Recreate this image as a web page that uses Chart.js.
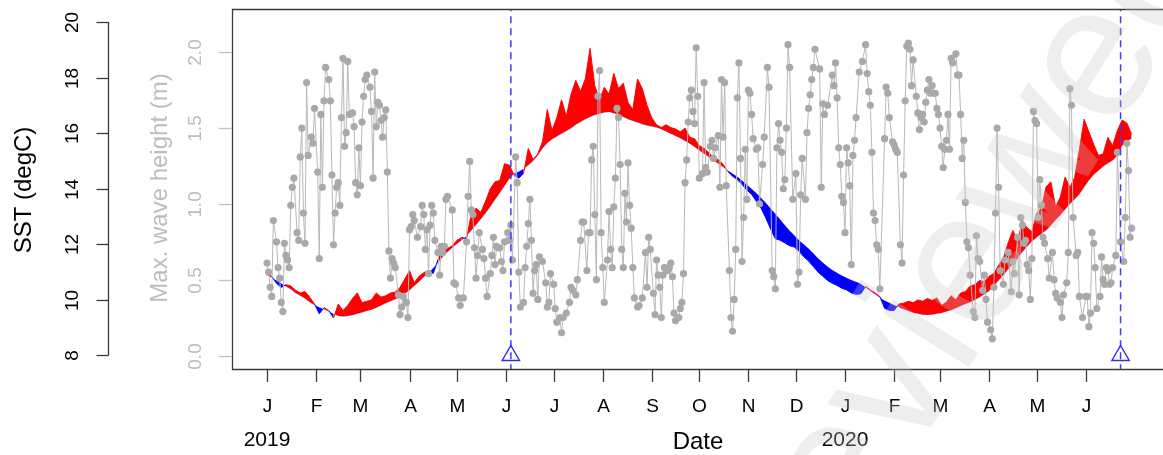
<!DOCTYPE html>
<html>
<head>
<meta charset="utf-8">
<title>SST and wave height</title>
<script src="https://cdn.jsdelivr.net/npm/chart.js@4.4.1/dist/chart.umd.min.js"></script>
<style>
  html, body { margin: 0; padding: 0; background: #fff; }
  canvas { display: block; }
</style>
</head>
<body>
<canvas id="sstChart" width="1163" height="455"></canvas>
<script>
// days since 2019-01-01
const sstDays = [
  0,3,6,9,12,15,18,21,24,27,
  30,33,36,39,42,45,48,51,54,57,
  60,63,66,69,72,75,78,81,84,87,
  90,93,96,99,102,105,108,111,114,117,
  120,123,126,129,132,135,138,141,144,147,
  150,153,156,159,162,165,168,171,174,177,
  180,183,186,189,192,195,198,201,204,207,
  210,213,216,219,222,225,228,231,234,237,
  240,243,246,249,252,255,258,261,264,267,
  270,273,276,279,282,285,288,291,294,297,
  300,303,306,309,312,315,318,321,324,327,
  330,333,336,339,342,345,348,351,354,357,
  360,363,366,369,372,375,378,381,384,387,
  390,393,396,399,402,405,408,411,414,417,
  420,423,426,429,432,435,438,441,444,447,
  450,453,456,459,462,465,468,471,474,477,
  480,483,486,489,492,495,498,501,504,507,
  510,513,516,519,522,525,528,531,534,537,
  540,543,546
];

// climatology (smooth curve)
const sstClim = [
  10.90,10.80,10.70,10.60,10.48,10.38,10.25,10.15,10.05,9.92,
  9.82,9.74,9.66,9.58,9.50,9.42,9.40,9.42,9.45,9.50,
  9.55,9.60,9.65,9.72,9.80,9.88,9.95,10.02,10.10,10.22,
  10.35,10.50,10.65,10.82,10.98,11.15,11.35,11.55,11.72,11.88,
  12.02,12.15,12.30,12.50,12.70,12.90,13.12,13.35,13.60,13.85,
  14.10,14.35,14.55,14.62,14.72,14.85,15.00,15.20,15.45,15.65,
  15.78,15.88,15.98,16.08,16.18,16.30,16.40,16.50,16.58,16.65,
  16.70,16.74,16.76,16.72,16.66,16.58,16.50,16.44,16.38,16.32,
  16.28,16.24,16.20,16.14,16.06,15.98,15.90,15.82,15.72,15.62,
  15.50,15.38,15.26,15.14,15.02,14.90,14.78,14.66,14.55,14.43,
  14.30,14.15,14.00,13.85,13.68,13.50,13.30,13.10,12.90,12.70,
  12.50,12.33,12.15,12.00,11.85,11.68,11.50,11.35,11.20,11.08,
  10.98,10.88,10.80,10.72,10.65,10.58,10.45,10.32,10.20,10.08,
  9.98,9.90,9.82,9.74,9.66,9.60,9.54,9.50,9.47,9.46,
  9.47,9.50,9.53,9.58,9.63,9.70,9.78,9.85,9.92,10.00,
  10.10,10.20,10.32,10.50,10.70,10.90,11.10,11.30,11.50,11.72,
  11.92,12.10,12.25,12.38,12.50,12.68,12.88,13.05,13.25,13.45,
  13.62,13.80,14.05,14.30,14.50,14.65,14.80,14.92,15.02,15.20,
  15.55,15.72,15.80
];

// observed SST
const sstObs = [
  10.95,10.85,10.60,10.45,10.55,10.50,10.35,10.25,10.30,10.10,
  9.85,9.50,9.72,9.62,9.35,9.85,9.62,9.80,10.05,10.25,
  9.90,9.95,10.00,10.25,10.10,10.15,10.25,10.28,10.45,10.75,
  11.05,10.62,10.85,10.98,11.05,10.95,11.45,11.90,11.85,11.95,
  12.15,12.25,12.20,13.10,13.30,13.15,13.55,14.00,14.25,14.30,
  14.90,14.85,14.50,14.38,14.55,15.45,15.05,15.25,15.70,16.85,
  16.10,16.55,17.20,16.60,17.40,17.90,17.50,17.95,19.05,17.70,
  17.20,17.65,17.40,18.15,17.60,17.80,17.10,16.85,17.95,17.60,
  17.00,16.55,16.30,16.20,16.30,16.20,16.15,16.05,16.18,15.85,
  15.80,15.55,15.45,15.30,15.10,15.05,14.88,14.62,14.45,14.33,
  14.15,13.95,13.80,13.55,13.30,12.95,12.55,12.20,12.15,12.05,
  11.95,11.90,11.75,11.55,11.40,11.20,11.00,10.85,10.70,10.60,
  10.52,10.42,10.36,10.25,10.20,10.22,10.48,10.36,10.25,10.12,
  9.70,9.62,9.62,9.85,9.88,9.95,9.90,10.00,9.95,10.05,
  9.98,10.07,9.80,9.92,10.15,10.00,10.25,10.30,10.50,10.55,
  10.70,10.65,10.85,10.95,11.25,11.50,12.05,12.50,12.10,12.85,
  12.60,12.45,13.10,13.30,14.07,14.25,13.35,13.70,14.42,14.05,
  14.40,15.40,16.50,16.05,15.60,15.20,15.25,15.85,15.55,16.10,
  16.47,16.36,15.95
];

// max. wave height (m)
const waveDays = [
  0,1,2,3,4,6,7,8,9,10,11,12,13,14,15,16,17,19,20,21,22,23,24,25,26,28,29,30,32,33,
  34,35,36,37,39,40,41,42,43,44,45,46,47,48,49,50,51,52,54,55,56,57,58,59,60,61,62,63,65,66,
  67,68,69,70,71,72,73,74,75,76,77,78,79,80,81,83,84,85,86,88,89,90,91,92,93,95,97,98,99,100,
  101,102,103,104,105,106,108,109,110,
  111,112,113,114,117,118,119,121,122,124,126,127,128,129,130,131,132,133,134,136,
  137,138,139,141,142,143,144,145,146,147,148,149,150,152,153,154,155,157,158,159,
  160,162,163,164,165,166,167,168,169,170,171,172,174,176,177,178,179,181,182,183,
  185,186,187,189,191,192,193,195,196,198,199,200,202,203,204,205,206,207,208,209,
  210,211,212,213,215,216,217,218,219,220,221,222,223,224,225,226,227,228,
  229,230,231,232,234,235,237,239,240,241,242,244,245,246,247,248,249,250,251,253,
  254,255,256,257,258,260,261,262,263,264,265,266,267,268,269,270,271,272,273,275,
  276,277,278,280,281,282,283,285,286,287,288,289,290,292,293,294,295,296,297,298,
  299,300,301,302,303,304,305,306,307,309,310,311,313,314,316,317,319,320,321,322,
  323,324,325,326,327,328,329,330,332,334,335,336,337,338,340,341,342,343,344,345,
  346,349,350,351,352,354,357,358,359,360,361,362,363,364,365,366,367,368,369,370,
  371,372,374,376,378,379,380,381,382,383,384,385,386,387,390,391,392,393,395,396,
  397,398,400,401,402,403,404,405,406,407,408,410,411,412,413,414,415,416,417,418,
  419,420,421,422,423,424,425,426,427,428,429,430,431,432,433,435,436,437,438,439,
  440,441,442,443,444,446,447,448,449,450,452,453,454,455,457,458,459,460,461,462,
  463,465,466,468,470,471,472,474,475,476,477,478,479,480,481,482,483,484,485,486,
  487,488,489,490,491,493,494,496,497,498,499,501,502,503,505,506,507,508,509,511,
  512,513,515,517,518,519,520,521,522,523,524,526,527,528,529,530,531,532,533,534,
  536,537,539,541,542,543,544,545,546
];
const waveHeight = [
  0.61,0.55,0.45,0.39,0.89,0.75,0.58,0.51,0.35,0.29,0.74,0.66,0.63,0.58,0.99,1.11,1.17,0.81,0.76,1.31,1.50,0.94,0.74,1.80,1.32,1.44,1.40,1.63,1.21,0.64,
  1.59,1.11,1.68,1.90,1.82,1.68,1.19,0.73,0.94,1.11,1.14,0.99,1.57,1.96,1.38,1.47,1.94,1.59,1.60,1.51,1.14,1.06,1.37,1.12,1.54,1.71,1.82,1.85,1.77,1.61,
  1.17,1.87,1.51,1.67,1.65,1.55,1.44,1.57,1.62,1.21,0.69,0.51,0.64,0.61,0.58,0.40,0.27,0.32,0.39,0.35,0.25,0.83,0.85,0.93,0.89,0.78,0.85,0.99,0.93,0.70,
  0.83,0.54,0.86,0.99,0.94,0.76,0.68,0.53,0.72,
  0.68,0.72,1.03,1.05,0.96,0.48,0.47,0.38,0.33,0.38,0.75,1.05,1.28,0.96,0.93,0.71,0.51,0.66,0.81,0.70,
  0.64,0.51,0.39,0.54,0.66,0.78,0.60,0.72,0.71,0.71,0.62,0.56,0.75,0.81,0.76,0.86,0.63,1.31,1.14,0.55,
  0.32,0.35,0.58,0.72,0.87,1.03,0.76,0.41,0.56,0.60,0.37,0.65,0.62,0.48,0.32,0.35,0.54,0.47,0.31,0.22,
  0.25,0.15,0.25,0.28,0.35,0.45,0.43,0.40,0.50,0.76,0.88,0.88,0.56,0.81,0.81,1.29,1.38,0.93,0.50,1.71,
  1.88,0.81,0.58,0.35,0.63,0.95,0.70,0.58,0.98,1.17,1.63,1.57,1.26,0.70,0.58,1.07,0.88,1.27,
  0.99,0.84,0.58,0.38,0.32,0.33,0.38,0.68,0.45,0.78,0.70,0.41,0.27,0.63,0.53,0.45,0.25,0.53,0.58,0.56,
  0.58,0.61,0.52,0.28,0.23,0.25,0.31,0.35,0.54,1.14,1.29,1.54,1.70,1.75,1.61,1.53,2.03,1.71,1.17,1.20,
  1.80,1.24,1.21,1.38,1.42,1.30,1.37,1.45,1.11,1.82,1.44,1.80,1.12,0.56,0.25,0.16,0.37,0.70,1.70,1.93,
  1.30,0.62,0.91,1.36,1.03,1.75,1.73,1.59,1.43,1.36,1.37,1.00,1.26,1.44,1.90,1.77,0.56,0.52,0.44,1.37,
  1.53,1.42,1.34,1.10,1.16,1.50,2.05,1.90,1.03,1.20,0.47,0.55,1.06,1.30,1.03,1.47,1.63,1.72,1.82,1.90,
  2.02,1.89,1.11,1.66,1.59,1.65,1.85,1.78,1.93,1.70,1.37,1.26,1.05,1.01,0.81,1.37,1.27,1.12,0.60,1.32,
  1.42,1.57,1.87,1.94,2.05,1.86,1.74,1.65,1.34,0.94,0.89,0.73,0.70,0.44,1.43,1.77,1.73,1.57,1.41,1.39,
  1.36,1.34,0.73,0.61,1.19,1.68,2.04,2.06,2.02,1.78,1.95,1.71,1.60,1.49,1.57,1.59,1.54,1.67,1.75,1.82,
  1.73,1.78,1.73,1.73,1.63,1.59,1.50,1.38,1.24,1.36,1.42,1.59,1.36,1.96,1.93,1.99,1.85,1.85,1.59,1.30,
  1.42,1.01,0.75,0.71,0.53,0.29,0.25,0.79,0.64,0.62,0.43,0.53,0.37,0.22,0.17,0.11,0.45,0.94,1.50,1.11,
  0.56,0.47,0.63,0.68,0.42,0.62,0.54,0.78,0.40,0.91,0.86,0.74,0.76,0.60,0.56,0.37,0.64,1.61,1.55,1.53,
  0.91,1.16,0.99,0.78,0.74,0.64,0.51,0.68,0.50,0.41,0.38,0.35,0.25,0.40,0.48,0.68,1.76,1.65,0.91,0.66,
  0.68,0.39,0.25,0.39,0.39,0.19,0.28,0.81,0.74,0.58,0.31,0.39,0.65,0.50,0.47,0.58,0.56,0.47,0.48,0.58,
  0.66,1.34,0.75,0.62,0.91,1.40,1.22,0.78,0.84
];

const eventDays = [154, 539];

const monthStarts = [0,31,59,90,120,151,181,212,243,273,304,334,365,396,425,456,486,517];
const monthLabels = ['J','F','M','A','M','J','J','A','S','O','N','D','J','F','M','A','M','J'];
const yearDays = [0, 365];
const yearLabels = ['2019', '2020'];
const sstTicks = [8, 10, 12, 14, 16, 18, 20];
const waveTicks = [0, 0.5, 1, 1.5, 2];

const RED = '#ff0000';
const BLUE = '#0000ff';
const FONT = '"Liberation Sans", Arial, Helvetica, sans-serif';

const pts = (xs, ys) => xs.map((x, i) => ({ x: x, y: ys[i] }));

// R-style axes, drawn with the chart's own scales
const rAxes = {
  id: 'rAxes',
  afterDraw(chart) {
    const { ctx, chartArea: a, scales } = chart;
    const xs = scales.x, ys = scales.ySst, yw = scales.yWave;
    ctx.save();

    // box (right side runs off the page)
    ctx.strokeStyle = '#3a3a3a';
    ctx.lineWidth = 1.3;
    ctx.beginPath();
    ctx.moveTo(a.right + 5, a.top + 0.5);
    ctx.lineTo(a.left + 0.5, a.top + 0.5);
    ctx.lineTo(a.left + 0.5, a.bottom + 0.5);
    ctx.lineTo(a.right + 5, a.bottom + 0.5);
    ctx.stroke();

    // x axis
    ctx.fillStyle = '#000';
    ctx.textAlign = 'center';
    ctx.textBaseline = 'middle';
    ctx.font = '19px ' + FONT;
    monthStarts.forEach((d, i) => {
      const px = Math.round(xs.getPixelForValue(d)) + 0.5;
      ctx.beginPath();
      ctx.moveTo(px, a.bottom);
      ctx.lineTo(px, a.bottom + 13);
      ctx.stroke();
      ctx.fillText(monthLabels[i], px, a.bottom + 38);
    });
    ctx.font = '21px ' + FONT;
    yearDays.forEach((d, i) => {
      ctx.fillText(yearLabels[i], xs.getPixelForValue(d), a.bottom + 71);
    });
    ctx.font = '24px ' + FONT;
    ctx.fillText('Date', 698, a.bottom + 73);

    // SST axis (outer, black)
    const sx = 108.5;
    ctx.beginPath();
    ctx.moveTo(sx, ys.getPixelForValue(sstTicks[0]));
    ctx.lineTo(sx, ys.getPixelForValue(sstTicks[sstTicks.length - 1]));
    ctx.stroke();
    ctx.font = '19px ' + FONT;
    sstTicks.forEach(v => {
      const py = Math.round(ys.getPixelForValue(v)) + 0.5;
      ctx.beginPath();
      ctx.moveTo(sx, py);
      ctx.lineTo(sx - 12, py);
      ctx.stroke();
      ctx.save();
      ctx.translate(73, py);
      ctx.rotate(-Math.PI / 2);
      ctx.fillText(String(v), 0, 0);
      ctx.restore();
    });
    ctx.save();
    ctx.font = '24px ' + FONT;
    ctx.translate(24, 190);
    ctx.rotate(-Math.PI / 2);
    ctx.fillText('SST (degC)', 0, 0);
    ctx.restore();

    // wave axis (inner, grey)
    ctx.strokeStyle = '#c2c2c2';
    ctx.fillStyle = '#bdbdbd';
    ctx.font = '19px ' + FONT;
    waveTicks.forEach(v => {
      const py = Math.round(yw.getPixelForValue(v)) + 0.5;
      ctx.beginPath();
      ctx.moveTo(a.left, py);
      ctx.lineTo(a.left - 13, py);
      ctx.stroke();
      ctx.save();
      ctx.translate(195.5, py);
      ctx.rotate(-Math.PI / 2);
      ctx.fillText(v.toFixed(1), 0, 0);
      ctx.restore();
    });
    ctx.save();
    ctx.font = '24px ' + FONT;
    ctx.translate(160, 188);
    ctx.rotate(-Math.PI / 2);
    ctx.fillText('Max. wave height (m)', 0, 0);
    ctx.restore();

    // watermark
    ctx.save();
    ctx.font = '190px ' + FONT;
    ctx.fillStyle = 'rgba(200,200,200,0.3)';
    ctx.textAlign = 'left';
    ctx.textBaseline = 'alphabetic';
    ctx.translate(1035, 168);
    ctx.rotate(-58 * Math.PI / 180);
    const before = ctx.measureText('Revie').width;
    const wW = ctx.measureText('w').width;
    ctx.fillText('Reviewed', -before - wW / 2, 0.26 * 190);
    ctx.restore();

    ctx.restore();
  }
};

new Chart(document.getElementById('sstChart'), {
  type: 'line',
  data: {
    datasets: [
      {
        label: 'Max. wave height',
        data: pts(waveDays, waveHeight),
        yAxisID: 'yWave',
        borderColor: '#b8b8b8',
        borderWidth: 1,
        pointRadius: 3.6,
        pointBackgroundColor: '#a9a9a9',
        pointBorderWidth: 0,
        fill: false,
        order: 0
      },
      {
        label: 'SST',
        data: pts(sstDays, sstObs),
        yAxisID: 'ySst',
        borderWidth: 1,
        pointRadius: 0,
        segment: {
          borderColor: c => {
            const i = c.p0DataIndex;
            return (sstObs[i] + sstObs[i + 1] >= sstClim[i] + sstClim[i + 1]) ? RED : BLUE;
          }
        },
        fill: { target: 2, above: RED, below: BLUE },
        order: 1
      },
      {
        label: 'Climatology',
        data: pts(sstDays, sstClim),
        yAxisID: 'ySst',
        borderWidth: 0,
        borderColor: 'rgba(0,0,0,0)',
        pointRadius: 0,
        fill: false,
        order: 2
      },
      {
        label: 'event 1',
        data: [{ x: eventDays[0], y: 7 }, { x: eventDays[0], y: 21 }],
        yAxisID: 'ySst',
        borderColor: '#3b3bff',
        borderWidth: 1.5,
        borderDash: [7, 5],
        pointRadius: 0,
        fill: false,
        order: -1
      },
      {
        label: 'event 2',
        data: [{ x: eventDays[1], y: 7 }, { x: eventDays[1], y: 21 }],
        yAxisID: 'ySst',
        borderColor: '#3b3bff',
        borderWidth: 1.5,
        borderDash: [7, 5],
        pointRadius: 0,
        fill: false,
        order: -1
      },
      {
        label: 'markers',
        data: eventDays.map(d => ({ x: d, y: 8 })),
        yAxisID: 'ySst',
        showLine: false,
        pointStyle: 'triangle',
        pointRadius: 10,
        pointBorderColor: '#2a2aff',
        pointBackgroundColor: 'rgba(255,255,255,0)',
        pointBorderWidth: 1.4,
        order: -2
      }
    ]
  },
  options: {
    responsive: false,
    animation: false,
    devicePixelRatio: 1,
    layout: { autoPadding: false, padding: { left: 232, top: 9, right: 0, bottom: 86 } },
    plugins: {
      legend: { display: false },
      tooltip: { enabled: false }
    },
    elements: { line: { tension: 0 } },
    scales: {
      x: { type: 'linear', display: false, min: -22.1, max: 565.8 },
      ySst: { type: 'linear', position: 'left', display: false, min: 7.514, max: 20.468 },
      yWave: { type: 'linear', position: 'left', display: false, min: -0.089, max: 2.2856 }
    }
  },
  plugins: [rAxes]
});
</script>
</body>
</html>
